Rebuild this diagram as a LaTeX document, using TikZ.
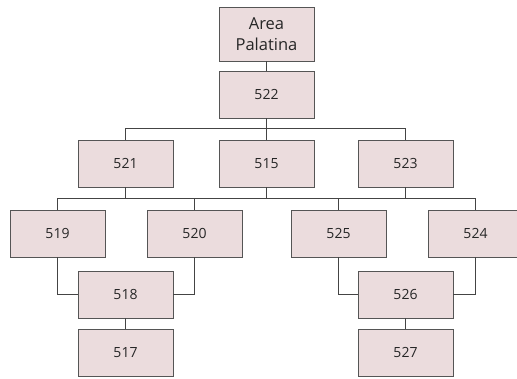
\documentclass[tikz,border=0pt]{standalone}
\usepackage{fontspec}
\setmainfont{Open Sans}
\definecolor{boxfill}{HTML}{EBDCDD}
\definecolor{boxline}{HTML}{555555}
\definecolor{conn}{HTML}{444444}
\begin{document}
\begin{tikzpicture}[x=1pt,y=-1pt,
  box/.style={draw=boxline,fill=boxfill,line width=0.9pt,minimum width=95pt,minimum height=47pt,inner sep=0pt,font=\fontsize{14}{16}\selectfont,text=black!85},
  link/.style={draw=conn,line width=0.9pt}]
\clip (0,0) rectangle (517,378);
\node[box,minimum height=54pt,align=center,font=\fontsize{16.5}{21}\selectfont] (nAP) at (266.5,34) {Area\\Palatina};
\node[box] (n522) at (266.5,94.5) {522};
\node[box] (n521) at (125.5,163.5) {521};
\node[box] (n515) at (266.5,163.5) {515};
\node[box] (n523) at (405.5,163.5) {523};
\node[box] (n519) at (57.5,233.5) {519};
\node[box] (n520) at (194.5,233.5) {520};
\node[box] (n525) at (338.5,233.5) {525};
\node[box] (n524) at (475.5,233.5) {524};
\node[box] (n518) at (125.5,294.5) {518};
\node[box] (n526) at (405.5,294.5) {526};
\node[box] (n517) at (125.5,352.5) {517};
\node[box] (n527) at (405.5,352.5) {527};
\draw[link] (nAP) -- (n522);
\draw[link] (n522) -- (n515);
\draw[link] (n521.north) -- ++(0,-11) -| (n523.north);
\draw[link] (n519.north) -- ++(0,-11) -| (n524.north);
\draw[link] (n521.south) -- ++(0,12);
\draw[link] (n515.south) -- ++(0,12);
\draw[link] (n523.south) -- ++(0,12);
\draw[link] (n520.north) -- ++(0,-11);
\draw[link] (n525.north) -- ++(0,-11);
\draw[link] (n519.south) |- (n518.west);
\draw[link] (n520.south) |- (n518.east);
\draw[link] (n525.south) |- (n526.west);
\draw[link] (n524.south) |- (n526.east);
\draw[link] (n518) -- (n517);
\draw[link] (n526) -- (n527);
\end{tikzpicture}
\end{document}
